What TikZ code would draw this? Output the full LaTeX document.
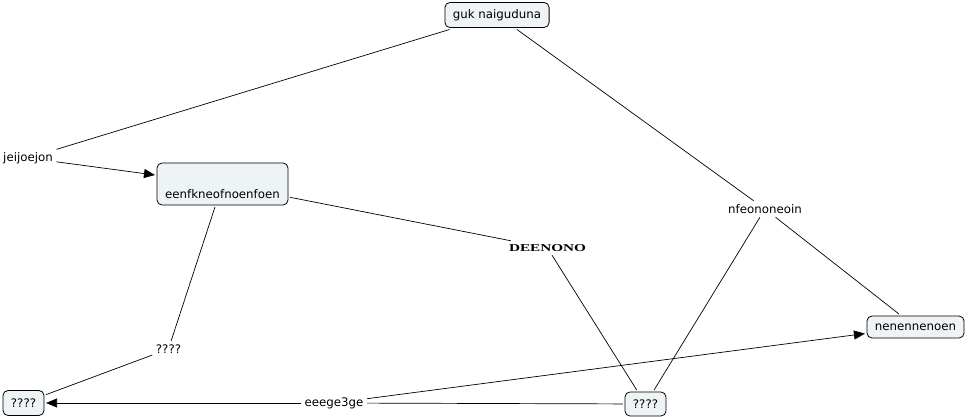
\documentclass[tikz,border=0pt]{standalone}
\usepackage{fontspec}
\setmainfont{DejaVu Sans}
\newfontfamily\phrasefont{Liberation Serif}
\usetikzlibrary{arrows.meta}
\definecolor{conceptfill}{RGB}{238,243,245}

\begin{document}
\begin{tikzpicture}[x=1pt,y=-1pt,
    font=\fontsize{11.8}{14}\selectfont,
    concept/.style={draw,line width=0.8pt,fill=conceptfill,rounded corners=5pt,
      inner xsep=8pt,minimum height=25pt,outer sep=2pt},
    phrase/.style={inner sep=3.5pt},
    link/.style={line width=0.7pt},
    linkto/.style={link,-{Triangle[length=11pt,width=9pt]}}]
  \useasboundingbox (0,0) rectangle (968,417);
  % concepts
  \node[concept] (guk) at (497,15) {guk naiguduna};
  \node[concept,minimum width=131pt,minimum height=42pt,
    text height=30pt,text depth=2pt] (eenf) at (222.5,184) {eenfkneofnoenfoen};
  \node[concept,minimum height=22pt] (nenen) at (915.5,327) {nenennenoen};
  \node[concept] (qL) at (23.5,403) {????};
  \node[concept,minimum height=24pt] (qR) at (645.5,404) {????};
  % linking phrases
  \node[phrase] (jeij) at (28,158) {jeijoejon};
  \node[phrase] (deen) at (547.5,248)
    {\scalebox{1.45}[1]{\phrasefont\bfseries\fontsize{10.5}{12}\selectfont DEENONO}};
  \node[phrase] (nfeo) at (765,209) {nfeononeoin};
  \node[phrase] (qM) at (168.5,349) {????};
  \node[phrase] (eeeg) at (334,403) {eeege3ge};
  % links
  \draw[link] (guk) -- (jeij);
  \draw[linkto] (jeij) -- (eenf);
  \draw[link] (guk) -- (nfeo);
  \draw[link] (nfeo) -- (nenen);
  \draw[link] (nfeo) -- (qR);
  \draw[link] (eenf) -- (deen);
  \draw[link] (deen) -- (qR);
  \draw[link] (eenf) -- (qM);
  \draw[link] (qM) -- (qL);
  \draw[link] (qR) -- (eeeg);
  \draw[linkto] (eeeg) -- (qL);
  \draw[linkto] (eeeg) -- (nenen);
\end{tikzpicture}
\end{document}
